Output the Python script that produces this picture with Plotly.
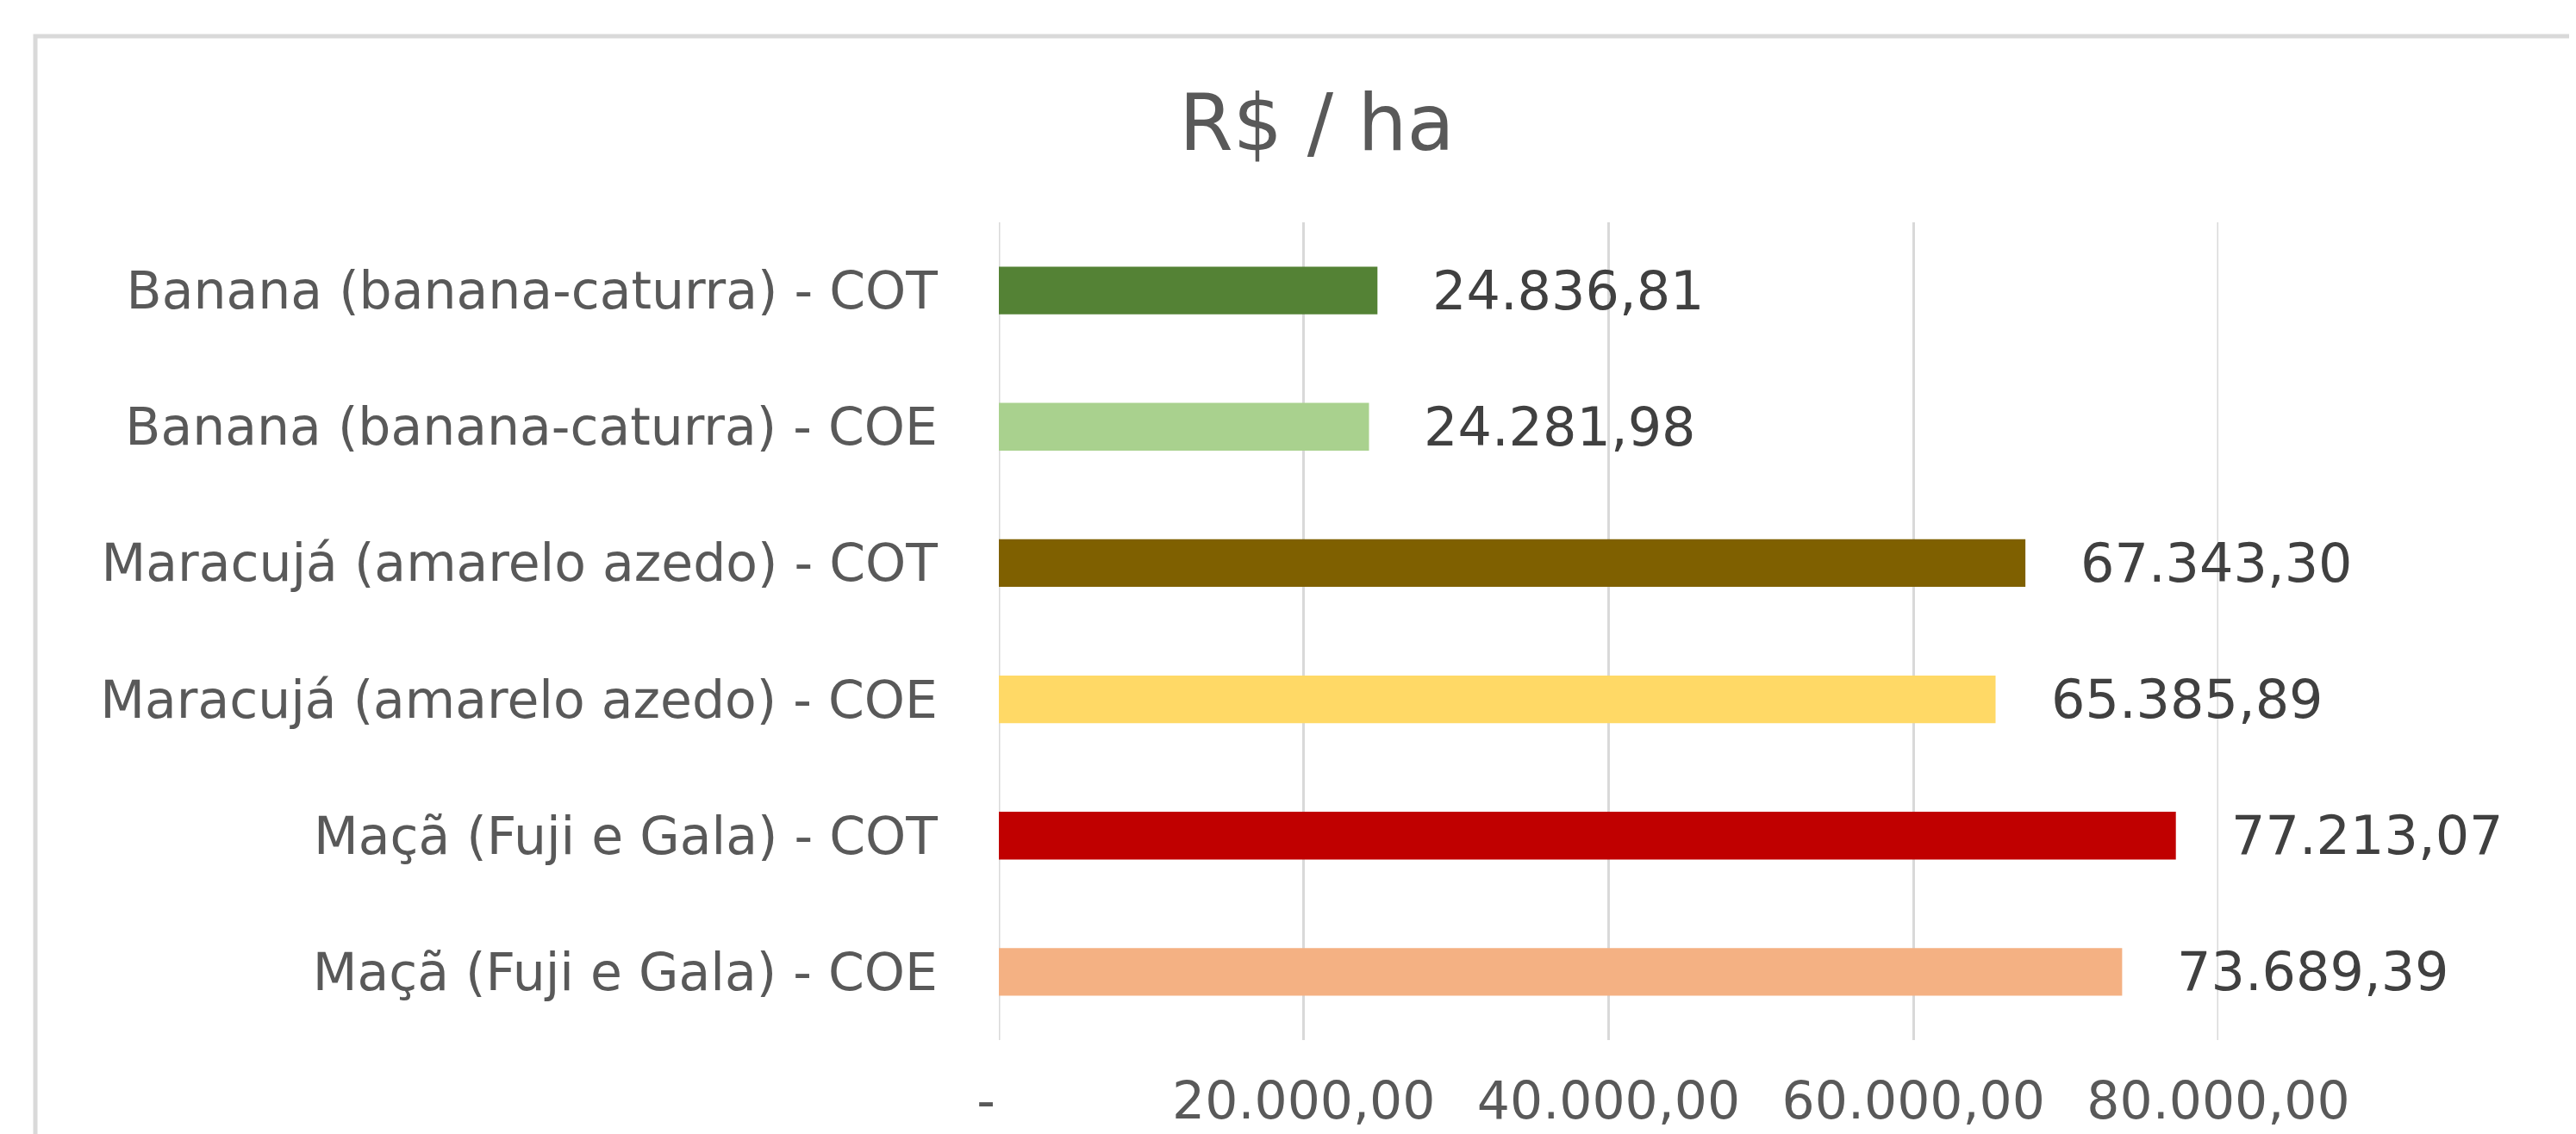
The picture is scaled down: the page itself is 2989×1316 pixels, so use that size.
import plotly.graph_objects as go

categories = [
    "Banana (banana-caturra) - COT",
    "Banana (banana-caturra) - COE",
    "Maracujá (amarelo azedo) - COT",
    "Maracujá (amarelo azedo) - COE",
    "Maçã (Fuji e Gala) - COT",
    "Maçã (Fuji e Gala) - COE",
]
values = [24836.81, 24281.98, 67343.30, 65385.89, 77213.07, 73689.39]
colors = ["#548235", "#A9D18E", "#7F6000", "#FFD966", "#C00000", "#F4B183"]
tick_vals = [0, 20000, 40000, 60000, 80000]
tick_text = ["-", "20.000,00", "40.000,00", "60.000,00", "80.000,00"]
title_text = "R$ / ha"


def br(v):
    s = f"{v:,.2f}"
    return s.replace(",", "X").replace(".", ",").replace("X", ".")


# accounting-style "-" for zero sits a bit left of the tick
tick_text_shown = [t + "\u2002" if t == "-" else t for t in tick_text]

OFF = 8  # default page body margin
W, H = 2989 - OFF, 1316 - OFF
L, R, T, B = 1159 - OFF, 2574 - OFF, 258 - OFF, 1207 - OFF
FONT = "DejaVu Sans"
GRID = "#D9D9D9"

fig = go.Figure()
fig.add_trace(go.Bar(
    x=values, y=categories, orientation="h",
    marker=dict(color=colors, line=dict(width=0)),
    width=0.35, hoverinfo="x+y",
))

for v, c in zip(values, categories):
    fig.add_annotation(
        x=v, y=c, xref="x", yref="y", text=br(v), showarrow=False,
        xanchor="left", yanchor="middle", xshift=62,
        font=dict(family=FONT, size=62, color="#404040"),
    )

# vertical gridlines at the axis ends (plotly omits gridlines on the range edges)
for tv in (tick_vals[0], tick_vals[-1]):
    fig.add_shape(
        type="line", xref="x", yref="paper", x0=tv, x1=tv, y0=0, y1=1,
        line=dict(color=GRID, width=3), layer="below",
    )

pw, ph = R - L, B - T
fig.add_shape(
    type="rect", xref="paper", yref="paper",
    x0=(41 - OFF - L) / pw, x1=(3060 - L) / pw,
    y0=(B - 1380) / ph, y1=(B - (42 - OFF)) / ph,
    line=dict(color=GRID, width=5), fillcolor="rgba(0,0,0,0)",
    layer="below",
)

fig.update_layout(
    width=W, height=H,
    margin=dict(l=L, r=W - R, t=T, b=H - B, pad=0, autoexpand=False),
    paper_bgcolor="white", plot_bgcolor="white",
    showlegend=False,
    title=dict(
        text=title_text, x=(1528 - OFF) / W, xref="container", xanchor="center",
        y=1 - (142 - OFF) / H, yref="container", yanchor="middle",
        font=dict(family=FONT, size=90, color="#595959"),
    ),
    xaxis=dict(
        range=[0, 80000], tickvals=tick_vals, ticktext=tick_text_shown,
        showgrid=True, gridcolor=GRID, gridwidth=3,
        zeroline=False, showline=False, automargin=False,
        ticks="outside", ticklen=18, tickcolor="rgba(0,0,0,0)",
        tickfont=dict(family=FONT, size=60, color="#595959"),
        fixedrange=True,
    ),
    yaxis=dict(
        autorange=False, range=[5.5, -0.5], type="category",
        showgrid=False, zeroline=False, showline=False, automargin=False,
        ticks="outside", ticklen=58, tickcolor="rgba(0,0,0,0)",
        tickfont=dict(family=FONT, size=60, color="#595959"),
        fixedrange=True,
    ),
    bargap=0.65,
)

fig.write_html("out.html", config={"displayModeBar": False})
